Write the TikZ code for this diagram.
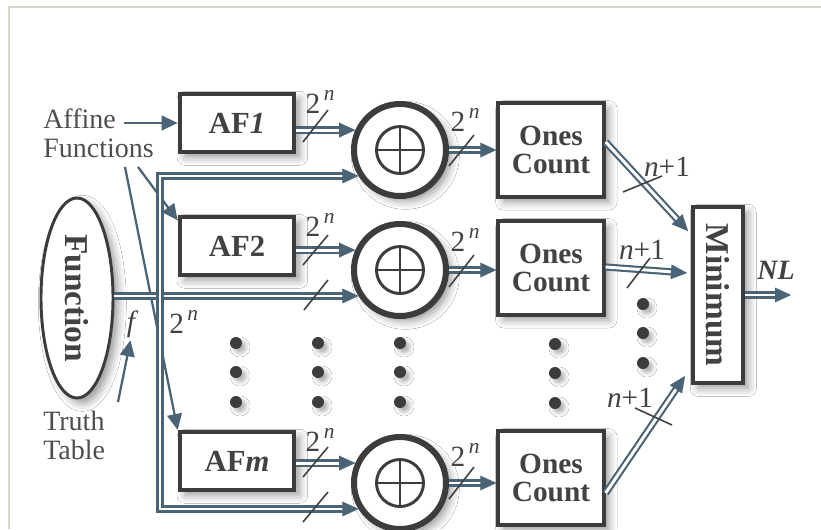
\documentclass[tikz,border=0pt]{standalone}
\usepackage{fontspec}
\setmainfont{Liberation Serif}
\usetikzlibrary{arrows.meta,shapes.geometric,shadows.blur,calc}
\definecolor{lc}{HTML}{4B6475}
\definecolor{bc}{HTML}{3C3C3C}
\definecolor{tc}{HTML}{424242}
\definecolor{gc}{HTML}{4E4E4E}
\definecolor{fr}{HTML}{D8D4C6}
\newcommand{\twoN}{2\raisebox{0.42em}{\fontsize{16}{16}\selectfont\,\textit{n}}}
\newcommand{\nplus}{\textit{n}+1}
\begin{document}
\begin{tikzpicture}[x=0.75pt,y=-0.75pt,
  shad/.style={blur shadow={shadow xshift=4pt,shadow yshift=-4pt,shadow blur radius=6pt,shadow opacity=40}},
  box/.style={draw=bc,line width=3pt,fill=white,text=tc,align=center,inner sep=0pt,shad},
  afbox/.style={box,minimum width=86pt,minimum height=43.5pt,font=\fontsize{23}{22}\selectfont\bfseries},
  ocbox/.style={box,minimum width=79pt,minimum height=70pt,font=\fontsize{22}{20.5}\selectfont\bfseries},
  xorc/.style={circle,draw=bc,line width=4.5pt,fill=white,minimum size=69pt,inner sep=0pt,shad},
  tipst/.style={-{Triangle[length=12pt,width=11pt,color=lc]}},
  bus/.style={draw=lc,line width=5.4pt,shorten >=11pt,
     postaction={draw=white,line width=2.2pt,shorten >=11pt},
     postaction={draw=white,line width=0.01pt,shorten >=0pt,tipst}},
  arr/.style={draw=lc,line width=1.7pt,tipst},
  tick/.style={draw=tc,line width=1.2pt},
  lab/.style={text=gc,font=\fontsize{21}{22}\selectfont,inner sep=0pt},
  blab/.style={text=tc,font=\fontsize{22}{22}\selectfont,inner sep=0pt},
  dot/.style={fill=bc,blur shadow={shadow xshift=3pt,shadow yshift=-3pt,shadow blur radius=3pt,shadow opacity=30}}
]
\useasboundingbox (0,0) rectangle (821,529);
\fill[white] (0,0) rectangle (821,529);
\draw[fr,line width=1.2pt] (9,529) -- (9,7) -- (821,7);

% main nodes
\node[ellipse,draw=bc,line width=2.2pt,fill=white,minimum width=54pt,minimum height=150pt,inner sep=0pt,text=tc,font=\fontsize{25}{25}\selectfont\bfseries,shad] (fn) at (77,298) {\rotatebox{-90}{Function}};
\node[afbox] (af1) at (237,123) {AF\textit{1}};
\node[afbox] (af2) at (237,246) {AF2};
\node[afbox] (afm) at (237,461) {AF\textit{m}};
\node[xorc] (x1) at (400,150) {};
\node[xorc] (x2) at (400,270) {};
\node[xorc] (x3) at (400,483) {};
\node[ocbox] (oc1) at (551,150) {Ones\\Count};
\node[ocbox] (oc2) at (551,268) {Ones\\Count};
\node[ocbox] (oc3) at (551,478) {Ones\\Count};
\node[box,minimum width=37.5pt,minimum height=132pt,font=\fontsize{25}{25}\selectfont\bfseries] (mn) at (718,295) {\rotatebox{-90}{Minimum}};

% xor symbols
\foreach \n in {x1,x2,x3}{
  \draw[bc,line width=2.2pt] (\n.center) circle[radius=23.5];
  \draw[bc,line width=2.2pt] ($(\n.center)+(-23.5,0)$) -- ($(\n.center)+(23.5,0)$);
  \draw[bc,line width=2.2pt] ($(\n.center)+(0,-23.5)$) -- ($(\n.center)+(0,23.5)$);
}

% text labels
\node[lab,anchor=base west] (aff) at (43,128) {Affine};
\node[lab,anchor=base west] (fun) at (43,157) {Functions};
\node[lab,anchor=base west] (tt1) at (43,430) {Truth};
\node[lab,anchor=base west] (tt2) at (43,459) {Table};
\node[blab,font=\fontsize{22}{22}\selectfont\itshape] (f) at (131,324) {f};
\node[blab,anchor=west] (bn) at (169,322) {\twoN};
\node[blab,font=\fontsize{21}{21}\selectfont\bfseries\itshape] (nl) at (776,270) {NL};

\coordinate (s1) at (125,167);
\coordinate (s2) at (138,167);
\coordinate (tts) at (118,402);
\coordinate (jm) at (160,0);
\coordinate (nle) at (791,295);

% single arrows
\draw[arr,shorten <=6pt] (aff.east |- af1.west) -- (af1.west);
\draw[arr] (s2) -- ([yshift=-4pt]af2.north west);
\draw[arr] (s1) -- (afm.north west);
\draw[arr,shorten >=2pt] (tts) -- (f.south);

% function bus
\draw[bus] (fn.east |- x2.212) -- (x2.212);
\draw[bus] (jm |- x2.212) |- (x1.212);
\draw[bus] (jm |- x2.212) |- (x3.212);

% AF -> xor
\draw[bus] (af1.east |- x1.156) -- (x1.156);
\draw[bus] (af2.east |- x2.156) -- (x2.156);
\draw[bus] (afm.east |- x3.156) -- (x3.156);

% xor -> ones
\draw[bus] (x1.east) -- (x1.east -| oc1.west);
\draw[bus] (x2.east) -- (x2.east -| oc2.west);
\draw[bus] (x3.east) -- (x3.east -| oc3.west);

% ones -> minimum
\draw[bus] ($(oc1.east)+(0,-8)$) -- ($(mn.north west)+(-3,26)$);
\draw[bus] ($(oc2.east)+(0,-1)$) -- ($(mn.west)+(-4,-22)$);
\draw[bus] ($(oc3.east)+(0,15)$) -- ($(mn.south west)+(-6,-9)$);
\draw[bus] (mn.east |- nle) -- (nle);

% slashes
\draw[tick] (303,142) -- (328,110);
\draw[tick] (303,265) -- (328,235);
\draw[tick] (304,310) -- (328,280);
\draw[tick] (303,477) -- (328,447);
\draw[tick] (303,522) -- (328,492);
\draw[tick] (449,166) -- (474,135);
\draw[tick] (449,287) -- (474,255);
\draw[tick] (449,499) -- (474,467);
\draw[tick] (623,192) -- (662,176);
\draw[tick] (627,288) -- (650,258);
\draw[tick] (635,408) -- (672,425);

% slash labels
\node[blab] (l1) at (320,102) {\twoN};
\node[blab] (l2) at (320,225) {\twoN};
\node[blab] (l3) at (320,440) {\twoN};
\node[blab] (l4) at (465,120) {\twoN};
\node[blab] (l5) at (465,240) {\twoN};
\node[blab] (l6) at (465,455) {\twoN};
\node[blab] (l7) at (667,167) {\nplus};
\node[blab] (l8) at (642,250) {\nplus};
\node[blab] (l9) at (630,398) {\nplus};

% dots
\foreach \x in {236,318,400}{\foreach \y in {343,372,402}{\path[dot] (\x,\y) circle[radius=6];}}
\foreach \y in {344,373,403}{\path[dot] (555,\y) circle[radius=6];}
\foreach \y in {304,333,363}{\path[dot] (643,\y) circle[radius=6];}
\end{tikzpicture}
\end{document}
